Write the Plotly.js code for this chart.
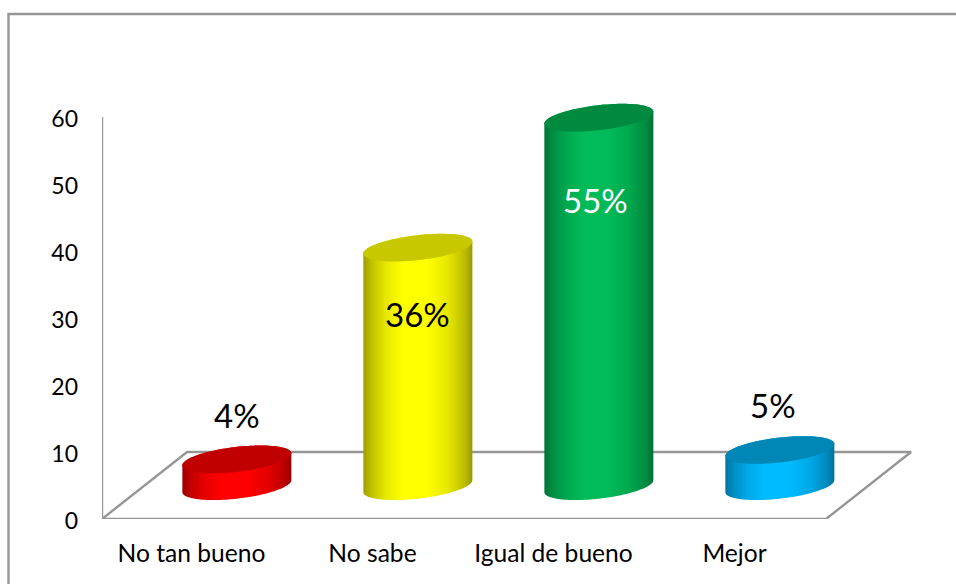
<!DOCTYPE html>
<html>
<head>
<meta charset="utf-8">
<script src="https://cdn.plot.ly/plotly-3.0.1.min.js"></script>
<style>html,body{margin:0;padding:0;background:#fff;overflow:hidden}#chart{width:956px;height:584px}</style>
</head>
<body>
<div id="chart"></div>
<script>
const categories = ['No tan bueno', 'No sabe', 'Igual de bueno', 'Mejor'];
const values = [4, 35.6, 55, 5.4];
const valueLabels = ['4%', '36%', '55%', '5%'];
const labelColors = ['#000000', '#000000', '#ffffff', '#000000'];
const yTicks = [0, 10, 20, 30, 40, 50, 60];
const sideBright = ['#ff0000', '#ffff00', '#00bb58', '#00bbff'];
const topColors = ['#c00000', '#c8c800', '#008a40', '#0087b5'];

// Pseudo-3D geometry in axis units
const W = 956, H = 584, L = 102, T = 94, B = 65;
const pxX = 181, pxY = 6.7;
const depthX = 0.47, depthY = 10;
const offsetX = 0.245, baseY = 4.9;
const radX = 54.5 / pxX, radY = 12.5 / pxY, skew = 6 / pxY;
const labelY = [15.55, 30.6, 47.6, 17];
const labelDX = [0.245, 0.245, 0.225, 0.205];

function ell(cx, cy, t0, t1, n) {
  const xs = [], ys = [];
  for (let i = 0; i <= n; i++) {
    const t = t0 + (t1 - t0) * i / n;
    xs.push(cx + radX * Math.cos(t));
    ys.push(cy + radY * Math.sin(t) + skew * Math.cos(t));
  }
  return [xs, ys];
}
function shade(hex, f) {
  const n = parseInt(hex.slice(1), 16);
  const c = [n >> 16, (n >> 8) & 255, n & 255].map(v => Math.round(v * f));
  return 'rgb(' + c.join(',') + ')';
}

const traces = [{
  type: 'scatter', mode: 'lines', cliponaxis: false, hoverinfo: 'skip',
  x: [0, 0], y: [0, yTicks[yTicks.length - 1]],
  line: {color: '#969696', width: 2.4}
}, {
  type: 'scatter', mode: 'lines', cliponaxis: false, hoverinfo: 'skip',
  x: [0, categories.length, categories.length + depthX, depthX, 0],
  y: [0, 0, depthY, depthY, 0],
  line: {color: '#969696', width: 2.4}
}];

values.forEach((v, i) => {
  const cx = i + 0.5 + offsetX;
  const top = baseY + v;
  const [bx, by] = ell(cx, baseY, Math.PI, 2 * Math.PI, 60);
  const [ux, uy] = ell(cx, top, 0, Math.PI, 60);
  const [tx, ty] = ell(cx, top, 0, 2 * Math.PI, 120);
  const c = sideBright[i];
  traces.push({
    type: 'scatter', mode: 'none', fill: 'toself', cliponaxis: false, hoverinfo: 'skip',
    x: bx.concat(ux),
    y: by.concat(uy),
    fillgradient: {type: 'horizontal', colorscale: [
      [0, shade(c, 0.62)], [0.08, shade(c, 0.76)], [0.2, shade(c, 0.9)], [0.36, shade(c, 1)],
      [0.58, shade(c, 1)], [0.78, shade(c, 0.9)], [0.93, shade(c, 0.74)], [1, shade(c, 0.6)]
    ]}
  });
  traces.push({
    type: 'scatter', mode: 'none', fill: 'toself', cliponaxis: false, hoverinfo: 'skip',
    x: tx, y: ty, fillcolor: topColors[i]
  });
});

const annotations = values.map((v, i) => ({
  x: i + 0.5 + labelDX[i], y: labelY[i], xref: 'x', yref: 'y',
  text: valueLabels[i], showarrow: false,
  font: {family: 'Lato, Carlito, sans-serif', size: 33, color: labelColors[i]}
}));

const frame = {
  type: 'path', xref: 'paper', yref: 'paper',
  path: 'M ' + ((8.5 - L) / (W - L)) + ' ' + ((-B) / (H - T - B)) +
        ' L ' + ((8.5 - L) / (W - L)) + ' ' + ((H - B - 14) / (H - T - B)) +
        ' L 1 ' + ((H - B - 14) / (H - T - B)),
  line: {color: '#969696', width: 2.4}
};

const layout = {
  width: W, height: H, showlegend: false,
  paper_bgcolor: '#fff', plot_bgcolor: 'rgba(0,0,0,0)',
  margin: {l: L, r: 0, t: T, b: B, pad: 0},
  xaxis: {
    range: [0, (W - L) / pxX], showgrid: false, zeroline: false, showline: false,
    tickmode: 'array', tickvals: categories.map((c, i) => i + 0.5), ticktext: categories,
    ticks: '', ticklabelstandoff: 17, ticklabelshift: -1,
    tickfont: {family: 'Lato, Carlito, sans-serif', size: 24.6, color: '#000'}
  },
  yaxis: {
    range: [0, (H - T - B) / pxY], showgrid: false, zeroline: false, showline: false,
    tickmode: 'array', tickvals: yTicks, ticks: '', ticklabelstandoff: 23, ticklabelshift: 2,
    tickfont: {family: 'Lato, Carlito, sans-serif', size: 23, color: '#000'}
  },
  shapes: [frame],
  annotations: annotations
};

Plotly.newPlot('chart', traces, layout, {displayModeBar: false, staticPlot: true});
</script>
</body>
</html>
